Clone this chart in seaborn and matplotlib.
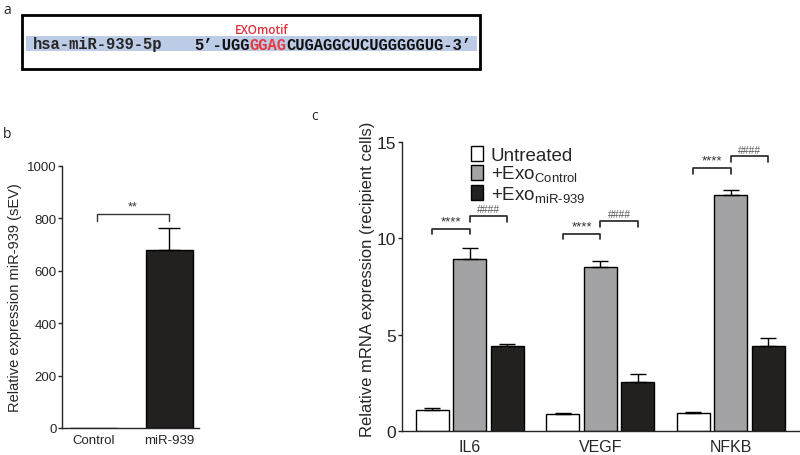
import matplotlib
matplotlib.use('Agg')
import matplotlib.pyplot as plt
from matplotlib.patches import Rectangle
import seaborn as sns
import pandas as pd

# panel a
mirna_name = 'hsa-miR-939-5p'
seq_before = '5’-UGG'
seq_motif = 'GGAG'
seq_after = 'CUGAGGCUCUGGGGGUG-3’'
motif_label = 'EXOmotif'

# panel b
b_groups = ['Control', 'miR-939']
b_values = [1, 680]
b_errors = [0, 85]
b_ticks = [0, 200, 400, 600, 800, 1000]

# panel c
genes = ['IL6', 'VEGF', 'NFKB']
conditions = ['Untreated', 'Control', 'miR-939']
untreated = [1.1, 0.9, 0.95]
untreated_err = [0.1, 0.05, 0.05]
exo_control = [8.95, 8.5, 12.25]
exo_control_err = [0.55, 0.3, 0.25]
exo_mir939 = [4.42, 2.52, 4.42]
exo_mir939_err = [0.08, 0.45, 0.4]
star_heights = [10.5, 10.25, 13.65]
hash_heights = [11.15, 10.9, 14.25]
c_ticks = [0, 5, 10, 15]

colors = ['#ffffff', '#a2a2a6', '#231f20']

sns.set_style('ticks')
plt.rcParams['font.family'] = ['Liberation Sans', 'DejaVu Sans']
plt.rcParams['mathtext.fontset'] = 'custom'
plt.rcParams['mathtext.rm'] = 'Liberation Sans'
plt.rcParams['axes.linewidth'] = 1.0

fig = plt.figure(figsize=(8, 4.56), dpi=100)

# ---- panel a: sequence box ----
fig.patches.append(Rectangle((22 / 800, 1 - 70 / 456), 458 / 800, 54 / 456, transform=fig.transFigure,
                             fill=False, edgecolor='black', linewidth=2.0))
fig.patches.append(Rectangle((26 / 800, 1 - 52 / 456), 451 / 800, 15 / 456, transform=fig.transFigure,
                             facecolor='#bccbe6', edgecolor='none'))
mono = dict(family='Liberation Mono', fontweight='bold', fontsize=11.2)
fig.text(33 / 800, 1 - 45 / 456, mirna_name, va='center', ha='left', **mono)
# sequence in three pieces, each placed right after the previous one
t1 = fig.text(194 / 800, 1 - 45 / 456, seq_before, va='center', ha='left', color='#111111', **mono)
t2 = fig.add_artist(matplotlib.text.Annotation(seq_motif, xy=(1, 0), xycoords=t1, va='bottom', ha='left',
                                               color='#e8383d', **mono))
t3 = fig.add_artist(matplotlib.text.Annotation(seq_after, xy=(1, 0), xycoords=t2, va='bottom', ha='left',
                                               color='#111111', **mono))
fig.text(262 / 800, 1 - 31 / 456, motif_label, family='Open Sans', fontweight='semibold', fontsize=8.5,
         color='#e0303a', ha='center', va='center')

fig.text(3 / 800, 1 - 11 / 456, 'a', family='Open Sans', fontsize=10, va='center')
fig.text(3 / 800, 1 - 134 / 456, 'b', family='Open Sans', fontsize=10, va='center')
fig.text(311 / 800, 1 - 116 / 456, 'c', family='Open Sans', fontsize=10, va='center')

# ---- panel b ----
ax_b = fig.add_axes([62 / 800, 1 - 429 / 456, 137 / 800, 262 / 456])
sns.barplot(x=b_groups, y=b_values, ax=ax_b, palette=[colors[2], colors[2]], hue=b_groups, legend=False,
            width=0.62, edgecolor='black', linewidth=1, errorbar=None)
for patch, err in zip(ax_b.patches, b_errors):
    xc = patch.get_x() + patch.get_width() / 2
    if err > 0:
        ax_b.errorbar(xc, patch.get_height(), yerr=[[0], [err]], fmt='none', ecolor='black',
                      elinewidth=1, capsize=8, capthick=1)
ax_b.set_xlim(-0.41, 1.39)
ax_b.set_ylim(0, 1000)
ax_b.set_yticks(b_ticks)
ax_b.set_ylabel('Relative expression miR-939 (sEV)', fontsize=10.5)
ax_b.yaxis.set_label_coords(-0.29, 0.5)
ax_b.tick_params(axis='y', labelsize=9.5, length=3, width=1, pad=1)
ax_b.tick_params(axis='x', labelsize=9.5, length=0, pad=4)
sns.despine(ax=ax_b)
# significance bracket
ax_b.plot([0.05, 0.05, 1, 1], [790, 815, 815, 790], color='#333333', lw=1)
ax_b.text(0.52, 822, '**', ha='center', va='bottom', fontsize=9, color='#333333')

# ---- panel c ----
df = pd.DataFrame({
    'gene': genes * 3,
    'condition': [conditions[0]] * 3 + [conditions[1]] * 3 + [conditions[2]] * 3,
    'value': untreated + exo_control + exo_mir939,
})
errs = [untreated_err, exo_control_err, exo_mir939_err]

ax_c = fig.add_axes([402 / 800, 1 - 432 / 456, 398 / 800, 289 / 456])
sns.barplot(data=df, x='gene', y='value', hue='condition', palette=colors, ax=ax_c,
            width=0.862, gap=0.12, edgecolor='black', linewidth=1, errorbar=None)

centers = []
for cont, err in zip(ax_c.containers, errs):
    cx = []
    for patch, e in zip(cont.patches, err):
        xc = patch.get_x() + patch.get_width() / 2
        cx.append(xc)
        ax_c.errorbar(xc, patch.get_height(), yerr=[[0], [e]], fmt='none', ecolor='black',
                      elinewidth=1, capsize=5.5, capthick=1)
    centers.append(cx)

for i in range(len(genes)):
    x0, x1, x2 = centers[0][i], centers[1][i], centers[2][i]
    hs, hh = star_heights[i], hash_heights[i]
    ax_c.plot([x0, x0, x1, x1], [hs - 0.3, hs, hs, hs - 0.3], color='#222222', lw=1.2)
    ax_c.text((x0 + x1) / 2, hs + 0.08, '****', ha='center', va='bottom', fontsize=9.5, color='#333333')
    ax_c.plot([x1, x1, x2, x2], [hh - 0.3, hh, hh, hh - 0.3], color='#222222', lw=1.2)
    ax_c.text((x1 + x2) / 2, hh + 0.1, '####', ha='center', va='bottom', fontsize=7.5, color='#555555')

ax_c.set_xlim(-0.52, 2.53)
ax_c.set_ylim(0, 15)
ax_c.set_yticks(c_ticks)
ax_c.set_xlabel('')
ax_c.set_ylabel('Relative mRNA expression (recipient cells)', fontsize=12)
ax_c.yaxis.set_label_coords(-0.068, 0.53)
ax_c.tick_params(axis='y', labelsize=12.5, length=3, width=1, pad=1)
ax_c.tick_params(axis='x', labelsize=11.5, length=0, pad=6)
sns.despine(ax=ax_c)

handles, _ = ax_c.get_legend_handles_labels()
ax_c.get_legend().remove()
ax_c.legend(handles, ['Untreated', '+Exo$_{\\text{Control}}$', '+Exo$_{\\text{miR-939}}$'],
            loc='upper left', bbox_to_anchor=(471 / 800, 1 - 147 / 456), bbox_transform=fig.transFigure,
            frameon=False, fontsize=13.5, handlelength=0.65, handleheight=0.85, handletextpad=0.4,
            labelspacing=0.0, borderpad=0, borderaxespad=0)

fig.savefig('out.png', dpi=100)
